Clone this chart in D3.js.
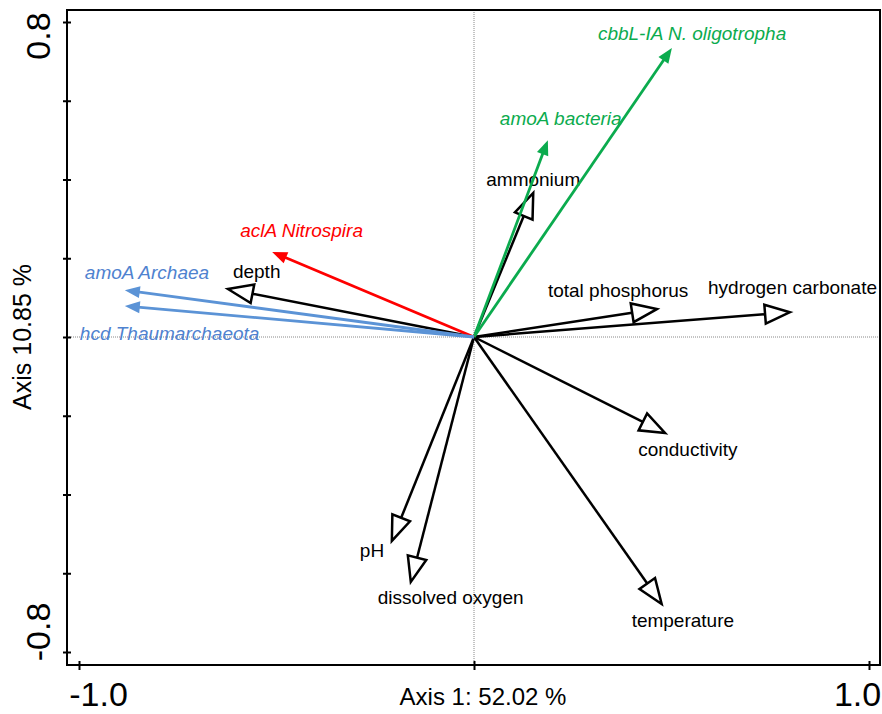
<!DOCTYPE html>
<html>
<head>
<meta charset="utf-8">
<script src="https://cdn.jsdelivr.net/npm/d3@7"></script>
<style>
  body { margin: 0; background: #fff; }
  svg { font-family: "Liberation Sans", Arial, sans-serif; }
</style>
</head>
<body>
<svg id="chart" width="882" height="714"></svg>
<script>
// environmental variables (open arrowheads)
const envNames = ['ammonium', 'depth', 'total phosphorus', 'hydrogen carbonate',
  'conductivity', 'temperature', 'dissolved oxygen', 'pH'];
const envX = [0.150, -0.623, 0.463, 0.800, 0.484, 0.475, -0.160, -0.208];
const envY = [0.366, 0.122, 0.071, 0.063, -0.244, -0.678, -0.622, -0.518];

// gene / taxon vectors (filled arrowheads)
const geneNames = ['cbbL-IA N. oligotropha', 'amoA bacteria', 'aclA Nitrospira',
  'amoA Archaea', 'hcd Thaumarchaeota'];
const geneX = [0.501, 0.187, -0.511, -0.884, -0.884];
const geneY = [0.734, 0.500, 0.216, 0.119, 0.079];
const geneGroup = ['bacteria', 'bacteria', 'nitrospira', 'archaea', 'archaea'];

const xTicks = [-1, 0, 1];
const yTicks = [-0.8, -0.6, -0.4, -0.2, 0, 0.2, 0.4, 0.6, 0.8];
const xTitle = 'Axis 1: 52.02 %';
const yTitle = 'Axis 10.85 %';

// label placement (pixel offsets from the arrow tip)
const envLabelOffset = [[-47, -7], [5, -11], [-109, -12], [-82, -18],
  [-27, 23], [-30, 23], [-33, 22], [-32, 16]];
const geneLabelOffset = [[-74, -8], [-48, -15], [-32, -15], [-40, -11], [-45, 34]];

const lineColor = { bacteria: '#0bab4e', nitrospira: '#fe0000', archaea: '#5b93d6' };
const textColor = { bacteria: '#0bab4e', nitrospira: '#fe0000', archaea: '#4f82cf' };

// plain hyphen instead of unicode minus, like the original
const fmt = v => d3.format('.1f')(v).replace('\u2212', '-');

const svg = d3.select('#chart');
const box = { left: 67, right: 880, top: 10, bottom: 665 };

const x = d3.scaleLinear().domain([-1, 1]).range([79, 869]);
const y = d3.scaleLinear().domain([-0.8, 0.8]).range([652, 22]);

// origin guides
svg.append('line')
  .attr('x1', x(0)).attr('x2', x(0))
  .attr('y1', box.top).attr('y2', box.bottom)
  .attr('stroke', '#888').attr('stroke-width', 1).attr('stroke-dasharray', '1,1');
svg.append('line')
  .attr('x1', box.left).attr('x2', box.right)
  .attr('y1', y(0)).attr('y2', y(0))
  .attr('stroke', '#888').attr('stroke-width', 1).attr('stroke-dasharray', '1,1');

// frame
svg.append('rect')
  .attr('x', box.left).attr('y', box.top)
  .attr('width', box.right - box.left).attr('height', box.bottom - box.top)
  .attr('fill', 'none').attr('stroke', '#000').attr('stroke-width', 2);

// x axis
const gx = svg.append('g')
  .attr('transform', 'translate(0,' + box.bottom + ')')
  .call(d3.axisBottom(x).tickValues(xTicks).tickSizeOuter(0)
    .tickFormat(d => d === 0 ? '' : fmt(d)));
gx.select('.domain').remove();
gx.selectAll('.tick line').attr('y1', -4).attr('y2', 5).attr('stroke-width', 2);
gx.selectAll('.tick text')
  .attr('font-size', 34).attr('font-family', '"Liberation Sans", Arial, sans-serif')
  .attr('fill', '#000').attr('y', 41).attr('dy', 0)
  .attr('dx', d => d < 0 ? 19 : -12);

// y axis
const gy = svg.append('g')
  .attr('transform', 'translate(' + box.left + ',0)')
  .call(d3.axisLeft(y).tickValues(yTicks).tickSizeOuter(0).tickFormat(''));
gy.select('.domain').remove();
gy.selectAll('.tick line').attr('x1', -4).attr('x2', 4).attr('stroke-width', 2);

// y tick labels only at the ends, rotated
[0.8, -0.8].forEach(v => {
  const cy = v > 0 ? y(v) + 14 : y(v) - 20;
  svg.append('text')
    .attr('transform', 'translate(50,' + cy + ') rotate(-90)')
    .attr('text-anchor', 'middle')
    .attr('font-size', 34)
    .text(fmt(v));
});

// axis titles
svg.append('text')
  .attr('x', x(0) + 9).attr('y', 705)
  .attr('text-anchor', 'middle').attr('font-size', 24)
  .text(xTitle);
svg.append('text')
  .attr('transform', 'translate(31,' + y(0) + ') rotate(-90)')
  .attr('text-anchor', 'middle').attr('font-size', 25)
  .text(yTitle);

// env arrows: shaft + open triangle head
const headLen = 25, headHalf = 9.5;
const envData = envNames.map((n, i) => ({ name: n, x: envX[i], y: envY[i], off: envLabelOffset[i] }));

const env = svg.append('g').selectAll('g').data(envData).join('g');
env.each(function(d) {
  const g = d3.select(this);
  const x0 = x(0), y0 = y(0), x1 = x(d.x), y1 = y(d.y);
  const len = Math.hypot(x1 - x0, y1 - y0);
  const ux = (x1 - x0) / len, uy = (y1 - y0) / len;
  const bx = x1 - ux * headLen, by = y1 - uy * headLen;
  g.append('line')
    .attr('x1', x0).attr('y1', y0).attr('x2', bx).attr('y2', by)
    .attr('stroke', '#000').attr('stroke-width', 2.5);
  g.append('path')
    .attr('d', 'M' + x1 + ',' + y1 +
      'L' + (bx - uy * headHalf) + ',' + (by + ux * headHalf) +
      'L' + (bx + uy * headHalf) + ',' + (by - ux * headHalf) + 'Z')
    .attr('fill', '#fff').attr('stroke', '#000').attr('stroke-width', 2.5)
    .attr('stroke-linejoin', 'miter');
  g.append('text')
    .attr('x', x1 + d.off[0]).attr('y', y1 + d.off[1])
    .attr('font-size', 19).attr('fill', '#000')
    .text(d.name);
});

// gene arrows: shaft + filled head
const fHeadLen = 15, fHeadHalf = 6;
const geneData = geneNames.map((n, i) => ({ name: n, x: geneX[i], y: geneY[i], grp: geneGroup[i], off: geneLabelOffset[i] }));

const genes = svg.append('g').selectAll('g').data(geneData).join('g');
genes.each(function(d) {
  const g = d3.select(this);
  const x0 = x(0), y0 = y(0), x1 = x(d.x), y1 = y(d.y);
  const len = Math.hypot(x1 - x0, y1 - y0);
  const ux = (x1 - x0) / len, uy = (y1 - y0) / len;
  const bx = x1 - ux * fHeadLen, by = y1 - uy * fHeadLen;
  g.append('line')
    .attr('x1', x0).attr('y1', y0).attr('x2', bx + ux * 2).attr('y2', by + uy * 2)
    .attr('stroke', lineColor[d.grp]).attr('stroke-width', 2.8);
  g.append('path')
    .attr('d', 'M' + x1 + ',' + y1 +
      'L' + (bx - uy * fHeadHalf) + ',' + (by + ux * fHeadHalf) +
      'L' + (bx + uy * fHeadHalf) + ',' + (by - ux * fHeadHalf) + 'Z')
    .attr('fill', lineColor[d.grp]);
  g.append('text')
    .attr('x', x1 + d.off[0]).attr('y', y1 + d.off[1])
    .attr('font-size', 19).attr('font-style', 'italic')
    .attr('fill', textColor[d.grp])
    .text(d.name);
});
</script>
</body>
</html>
